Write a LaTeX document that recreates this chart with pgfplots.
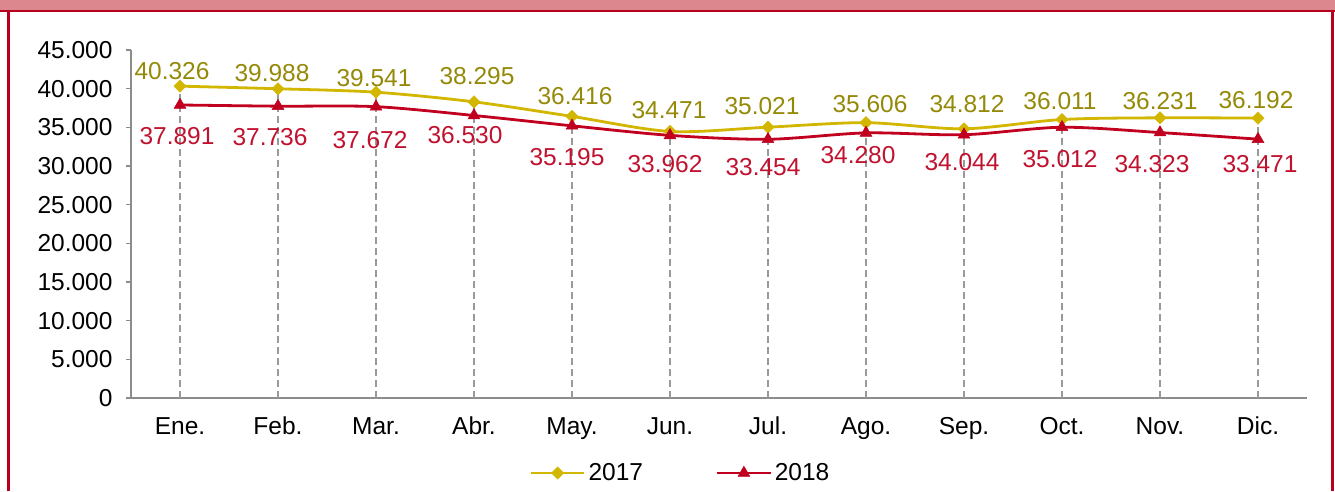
\documentclass[border=0pt]{standalone}
\usepackage{fontspec}
\setmainfont{Liberation Sans}
\usepackage{pgfplots}
\usepackage{pgfplotstable}
\pgfplotsset{compat=1.18}

\definecolor{gold}{HTML}{D2B600}
\definecolor{goldtxt}{HTML}{958908}
\definecolor{crim}{HTML}{C0001E}
\definecolor{crimtxt}{HTML}{C0122F}
\definecolor{band}{HTML}{DC868E}
\definecolor{framecol}{HTML}{B8001E}
\definecolor{axgray}{HTML}{8C8C8C}
\definecolor{dropgray}{HTML}{9A9A9A}

% x value dx dy  (dx, dy: label offset in pt)
\pgfplotstableread{
x y dx dy
0 40326 -8 14.6
1 39988 -6 15.3
2 39541 -2 13.7
3 38295 3 25.4
4 36416 3 20.4
5 34471 -1 20.9
6 35021 -6 21.2
7 35606 4 18.6
8 34812 3 24.8
9 36011 -2 18.5
10 36231 0 16.8
11 36192 -2 17.6
}\tblA

\pgfplotstableread{
x y dx dy
0 37891 -3 -31
1 37736 -8 -30.8
2 37672 -6 -33.8
3 36530 -9 -19.5
4 35195 -5 -31.2
5 33962 -5 -28.6
6 33454 -5 -27.7
7 34280 -8 -22.1
8 34044 -2 -27.3
9 35012 -2 -31.8
10 34323 -8 -31.4
11 33471 2 -25.3
}\tblB

\newcommand{\fs}{\fontsize{24.5}{28}\selectfont}

\begin{document}
\begin{tikzpicture}
\useasboundingbox (0pt,0pt) rectangle (1335pt,491pt);
\fill[band] (0pt,480pt) rectangle (1335pt,491pt);
\draw[framecol, line width=2pt] (0pt,479.5pt) -- (1335pt,479.5pt);
\draw[framecol, line width=2.5pt] (8.5pt,0pt) -- (8.5pt,480pt);
\draw[framecol, line width=2.5pt] (1332.5pt,0pt) -- (1332.5pt,480pt);

\begin{axis}[
  at={(131pt,93pt)}, anchor=south west,
  scale only axis, width=1176pt, height=348pt,
  xmin=-0.5, xmax=11.5, ymin=0, ymax=45000,
  axis x line=bottom, axis y line=left,
  axis line style={draw=axgray, line width=1.3pt, -},
  xtick={0,...,11},
  xticklabels={Ene.,Feb.,Mar.,Abr.,May.,Jun.,Jul.,Ago.,Sep.,Oct.,Nov.,Dic.},
  x tick style={draw=none},
  ytick={0,5000,...,45000},
  scaled y ticks=false,
  y tick style={draw=axgray, line width=1.3pt},
  tick align=outside, major tick length=5pt,
  /pgf/number format/.cd, 1000 sep={.}, fixed, precision=0, assume math mode=true, /pgfplots/.cd,
  yticklabel={\pgfmathprintnumber{\tick}},
  ticklabel style={font=\fs, text=black},
  yticklabel style={xshift=-10pt},
  xticklabel style={anchor=base, yshift=-31pt},
  clip=false,
  legend columns=2,
  legend style={at={(0.4677,-0.2155)}, anchor=center, draw=none, fill=none,
    font=\fs, nodes={inner sep=3pt},
    /tikz/every even column/.append style={column sep=70pt}},
  legend image code/.code={\draw[mark repeat=2, mark phase=2, line width=2.8pt, #1]
    plot coordinates {(0pt,0pt) (26.5pt,0pt) (53pt,0pt)};},
]
\addplot[ycomb, dropgray, line width=2.2pt, dash pattern=on 7pt off 4pt, forget plot] table[x=x, y=y] {\tblA};

\addplot[gold, line width=2.8pt, smooth, mark=square*, mark size=4.3pt,
  mark options={rotate=45, fill=gold, draw=gold, line width=0.5pt, solid},
  nodes near coords,
  visualization depends on={\thisrow{dx} \as \dx},
  visualization depends on={\thisrow{dy} \as \dy},
  nodes near coords style={font=\fs, text=goldtxt, anchor=center,
    xshift=\dx, yshift=\dy}]
  table[x=x, y=y] {\tblA};
\addlegendentry{2017}

\addplot[crim, line width=2.8pt, smooth, mark=triangle*, mark size=6.8pt,
  mark options={fill=crim, draw=crim, line width=0.5pt, solid},
  nodes near coords,
  visualization depends on={\thisrow{dx} \as \dx},
  visualization depends on={\thisrow{dy} \as \dy},
  nodes near coords style={font=\fs, text=crimtxt, anchor=center,
    xshift=\dx, yshift=\dy}]
  table[x=x, y=y] {\tblB};
\addlegendentry{2018}
\end{axis}
\end{tikzpicture}
\end{document}
